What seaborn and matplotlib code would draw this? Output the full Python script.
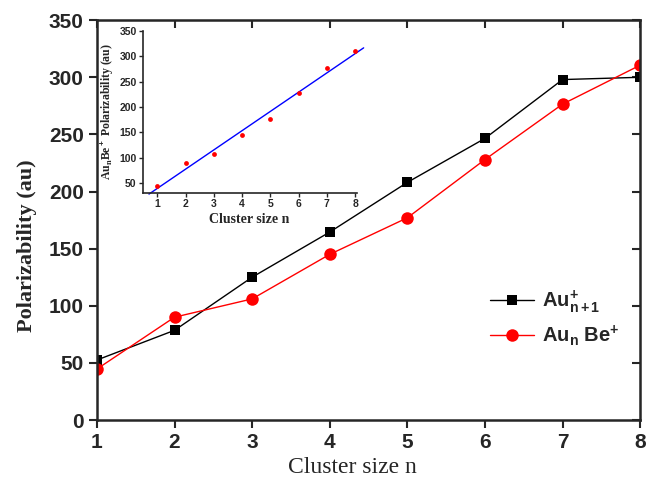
import numpy as np
import pandas as pd
import matplotlib
matplotlib.use("Agg")
import matplotlib.pyplot as plt
import seaborn as sns

n = [1, 2, 3, 4, 5, 6, 7, 8]
au_n1 = [52.5, 78.5, 125, 164.5, 208, 246.5, 298, 300]
aun_be = [44.6, 90, 106, 145, 177, 228, 276.5, 310.6]

sns.set_style("ticks")
plt.rcParams['font.family'] = ['Liberation Sans', 'DejaVu Sans']
plt.rcParams['mathtext.fontset'] = 'custom'
plt.rcParams['mathtext.rm'] = 'Liberation Sans:bold'
plt.rcParams['mathtext.it'] = 'Liberation Sans:bold'
plt.rcParams['mathtext.bf'] = 'Liberation Sans:bold'

fig = plt.figure(figsize=(6.46, 4.8), dpi=100)
ax = fig.add_axes([0.150, 0.125, 0.841, 0.833])

df = pd.DataFrame({"n": n, "a": au_n1, "b": aun_be})
sns.lineplot(data=df, x="n", y="a", ax=ax, color="black", marker="s", markersize=7.5,
             markeredgewidth=0, linewidth=1.0, label=r"Au$^{+}_{n+1}$", clip_on=True)
sns.lineplot(data=df, x="n", y="b", ax=ax, color="red", marker="o", markersize=9,
             markeredgewidth=0, linewidth=1.0, label=r"Au$_{n}$ Be$^{+}$", clip_on=True)

ax.set_xlim(1, 8)
ax.set_ylim(0, 350)
ax.set_xticks(n)
ax.set_yticks(np.arange(0, 351, 50))
for s in ax.spines.values():
    s.set_linewidth(1.8)
    s.set_visible(True)
ax.tick_params(axis='both', which='major', direction='out', length=6, width=1.5,
               labelsize=15)
for lbl in ax.get_xticklabels() + ax.get_yticklabels():
    lbl.set_fontweight('bold')
ax.set_xlabel("Cluster size n", family=['Liberation Serif'], fontsize=17)
ax.xaxis.set_label_coords(0.47, -0.092)
ax.set_ylabel("Polarizability (au)", family=['Liberation Serif'], fontsize=16,
              fontweight='bold')
ax.yaxis.set_label_coords(-0.11, 0.435)
# mirror ticks inward on top/right
ax2 = ax.secondary_xaxis('top')
ax2.set_xticks(n)
ax2.tick_params(direction='in', length=6, width=1.5, labeltop=False)
ax3 = ax.secondary_yaxis('right')
ax3.set_yticks(np.arange(0, 351, 50))
ax3.tick_params(direction='in', length=6, width=1.5, labelright=False)

leg = ax.legend(loc='center left', bbox_to_anchor=(0.69, 0.255), frameon=False,
                fontsize=14.5, handlelength=2.2, labelspacing=0.4, handletextpad=0.4)
for t in leg.get_texts():
    t.set_fontweight('bold')

# inset
axi = fig.add_axes([0.221, 0.598, 0.331, 0.3375])
sns.scatterplot(x=n, y=aun_be, ax=axi, color="red", s=12, linewidth=0, zorder=3)
coef = np.polyfit(n, aun_be, 1)
xl = np.array([0.7, 8.3])
axi.plot(xl, np.polyval(coef, xl), color="blue", linewidth=1.0, clip_on=False)
axi.set_xlim(0.48, 8.05)
axi.set_ylim(30, 350)
axi.set_xticks(n)
axi.set_yticks(np.arange(50, 351, 50))
axi.spines['top'].set_visible(False)
axi.spines['right'].set_visible(False)
for s in ['left', 'bottom']:
    axi.spines[s].set_linewidth(1.2)
axi.tick_params(axis='both', direction='out', length=3, width=1, labelsize=7.5, pad=1.5)
for lbl in axi.get_xticklabels() + axi.get_yticklabels():
    lbl.set_fontweight('bold')
axi.set_xlabel("Cluster size n", family=['Liberation Serif'], fontsize=10,
               fontweight='bold', labelpad=3)
axi.set_ylabel(r"Au$_\mathregular{n}$Be$^+$ Polarizability (au)", family=['Liberation Serif'],
               fontsize=8.5, fontweight='bold', labelpad=2)
axi.patch.set_alpha(0)

fig.savefig("out.png", dpi=100)
